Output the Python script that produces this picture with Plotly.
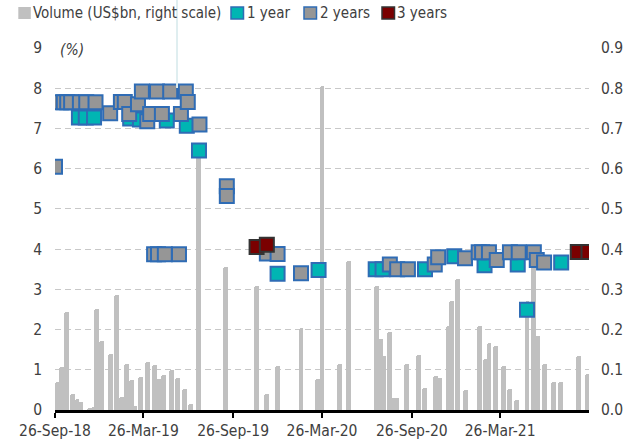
import plotly.graph_objects as go

# ---------------- data ----------------
vol_dates = ["2018-09-30", "2018-10-10", "2018-10-20", "2018-11-01", "2018-11-10", "2018-11-18",
             "2018-12-05", "2018-12-13", "2018-12-20", "2018-12-30", "2019-01-17", "2019-01-30",
             "2019-02-10", "2019-02-20", "2019-03-01", "2019-03-09", "2019-03-20", "2019-04-03",
             "2019-04-17", "2019-04-26", "2019-05-07", "2019-05-22", "2019-06-04", "2019-06-19",
             "2019-06-30", "2019-07-17", "2019-09-11", "2019-11-13", "2019-12-04", "2019-12-25",
             "2020-02-12", "2020-03-16", "2020-03-26", "2020-04-30", "2020-05-20", "2020-07-16",
             "2020-07-24", "2020-07-31", "2020-08-12", "2020-08-18", "2020-08-26", "2020-09-15",
             "2020-10-09", "2020-10-22", "2020-11-13", "2020-11-21", "2020-12-10", "2020-12-17",
             "2020-12-29", "2021-01-14", "2021-02-11", "2021-02-23", "2021-03-03", "2021-03-17",
             "2021-04-01", "2021-04-15", "2021-04-29", "2021-05-20", "2021-06-02", "2021-06-11",
             "2021-06-24", "2021-07-14", "2021-07-28", "2021-09-02", "2021-09-21"]
vol_values = [0.07, 0.106, 0.244, 0.04, 0.027, 0.02,
              0.005, 0.008, 0.252, 0.172, 0.139, 0.286,
              0.032, 0.114, 0.075, 0.01, 0.083, 0.12,
              0.113, 0.076, 0.086, 0.10, 0.08, 0.053,
              0.015, 0.64, 0.355, 0.309, 0.04, 0.11,
              0.205, 0.077, 0.805, 0.114, 0.371, 0.309,
              0.176, 0.135, 0.193, 0.03, 0.03, 0.114,
              0.137, 0.054, 0.085, 0.08, 0.21, 0.27,
              0.325, 0.05, 0.21, 0.127, 0.166, 0.158,
              0.11, 0.052, 0.025, 0.27, 0.36, 0.185,
              0.114, 0.069, 0.069, 0.134, 0.09]

y1_dates = ["2018-11-14", "2018-11-28", "2018-12-15", "2019-02-27", "2019-03-19", "2019-05-13",
            "2019-06-23", "2019-07-18", "2019-12-26", "2020-03-19", "2020-07-14", "2020-07-28",
            "2020-10-23", "2020-12-22", "2021-02-22", "2021-05-01", "2021-05-20", "2021-07-29"]
y1_values = [7.27, 7.27, 7.27, 7.25, 7.22, 7.2,
             7.07, 6.45, 3.39, 3.48, 3.5, 3.5,
             3.5, 3.82, 3.6, 3.62, 2.49, 3.67]

y2_dates = ["2018-09-26", "2018-10-08", "2018-10-14", "2018-10-21", "2018-10-29", "2018-11-16",
            "2018-11-29", "2018-12-18", "2019-01-17", "2019-02-08", "2019-02-16", "2019-02-25",
            "2019-03-15", "2019-03-23", "2019-04-03", "2019-04-09", "2019-04-23", "2019-05-03",
            "2019-05-20", "2019-06-11", "2019-06-21", "2019-06-25", "2019-07-19", "2019-04-17",
            "2019-04-25", "2019-05-09", "2019-06-07", "2019-09-13", "2019-09-13", "2019-12-04",
            "2019-12-26", "2020-02-12", "2020-08-12", "2020-08-27", "2020-09-18", "2020-11-12",
            "2020-11-19", "2021-01-13", "2021-02-10", "2021-02-17", "2021-03-03", "2021-03-19",
            "2021-04-15", "2021-05-03", "2021-06-03", "2021-06-09", "2021-06-24"]
y2_values = [6.05, 7.65, 7.65, 7.65, 7.65, 7.65,
             7.65, 7.65, 7.38, 7.66, 7.66, 7.36,
             7.6, 7.92, 7.18, 7.36, 7.92, 7.36,
             7.92, 7.36, 7.92, 7.66, 7.1, 3.87,
             3.87, 3.87, 3.87, 5.56, 5.32, 3.89,
             3.88, 3.40, 3.62, 3.5, 3.5, 3.62,
             3.8, 3.77, 3.92, 3.92, 3.92, 3.73,
             3.92, 3.92, 3.92, 3.73, 3.67]

y3_dates = ["2019-11-13", "2019-12-04", "2021-09-01", "2021-09-23"]
y3_values = [4.05, 4.11, 3.93, 3.93]

legend_labels = ["Volume (US$bn, right scale)", "1 year", "2 years", "3 years"]

# ---------------- style ----------------
FONT = "'DejaVu Sans Condensed', 'Liberation Sans Narrow', 'Liberation Sans', sans-serif"
FS = 15.5
TXT = "#404040"
BAR_C = "#c0c0c0"
TEAL = "#00b5b3"
GRAY = "#969696"
DRED = "#7a0000"
BLUE = "#2f6cb5"
DARK = "#333333"
DAY_MS = 86400000

fig = go.Figure()

fig.add_trace(go.Bar(
    x=vol_dates, y=vol_values, yaxis="y", xaxis="x",
    width=[10 * DAY_MS] * len(vol_dates),
    marker=dict(color=BAR_C, line=dict(width=0), cornerradius=3),
    showlegend=False, hoverinfo="skip"))

def add_sq(dates, vals, fill, edge):
    fig.add_trace(go.Scatter(
        x=dates, y=vals, yaxis="y2", mode="markers",
        marker=dict(symbol="square", size=14, color=fill, line=dict(color=edge, width=2)),
        showlegend=False, hoverinfo="skip"))

add_sq(y1_dates, y1_values, TEAL, BLUE)
add_sq(y2_dates, y2_values, GRAY, BLUE)
add_sq(y3_dates, y3_values, DRED, DARK)

# plot-area geometry (pixels) used for the hand-placed legend
L, R, T, B = 55, 51, 48, 33
W, H = 640 - L - R, 443 - T - B

def px(xp):
    return (xp - L) / W

def py(yp):
    return (443 - B - yp) / H

shapes = []
annotations = []
leg_items = [(18.3, BAR_C, BAR_C, 0, 31),
             (231, TEAL, BLUE, 1.5, 244.5),
             (304, GRAY, BLUE, 1.5, 317.5),
             (382, DRED, DARK, 1.5, 395)]
for (x0, fill, edge, lw, tx), lab in zip(leg_items, legend_labels):
    shapes.append(dict(type="rect", xref="paper", yref="paper",
                       x0=px(x0), x1=px(x0 + 12.5), y0=py(19), y1=py(7),
                       fillcolor=fill, line=dict(color=edge, width=lw), layer="above"))
    annotations.append(dict(text=lab, xref="paper", yref="paper", x=px(tx), y=py(13),
                            xanchor="left", yanchor="middle", showarrow=False,
                            font=dict(family=FONT, size=15, color=TXT)))

# faint vertical line visible in the original image
shapes.append(dict(type="line", xref="x", yref="paper", x0="2019-06-03", x1="2019-06-03",
                   y0=py(88), y1=py(0), line=dict(color="#dfeef0", width=2), layer="above"))

annotations.append(dict(text="<i>(%)</i>", xref="paper", yref="paper", x=px(72), y=py(50),
                        xanchor="center", yanchor="middle", showarrow=False,
                        font=dict(family=FONT, size=FS, color=TXT)))

fig.update_layout(
    width=640, height=443,
    margin=dict(l=L, r=R, t=T, b=B, pad=0, autoexpand=False),
    paper_bgcolor="white", plot_bgcolor="white",
    font=dict(family=FONT, size=FS, color=TXT),
    showlegend=False,
    bargap=0,
    shapes=shapes, annotations=annotations,
    xaxis=dict(type="date", range=["2018-09-26", "2021-09-24"],
               tick0="2018-09-26", dtick="M6", tickformat="%d-%b-%y",
               showline=True, linecolor="black", linewidth=2.5,
               ticks="outside", ticklen=5, tickwidth=2, tickcolor="black",
               showgrid=False, zeroline=False, fixedrange=True, automargin=False),
    yaxis=dict(side="right", range=[0, 0.9], dtick=0.1, tickformat=".1f",
               showgrid=True, gridcolor="#c8c8c8", gridwidth=1, griddash="6px,4px",
               zeroline=False, showline=False, ticks="", ticklabelstandoff=11,
               automargin=False),
    yaxis2=dict(side="left", overlaying="y", range=[0, 9], dtick=1,
                showgrid=False, zeroline=False, showline=False, ticks="",
                ticklabelstandoff=12, automargin=False),
)

fig.write_html("out.html", config={"displayModeBar": False},
               post_script="document.body.style.margin='0';document.body.style.padding='0';")
